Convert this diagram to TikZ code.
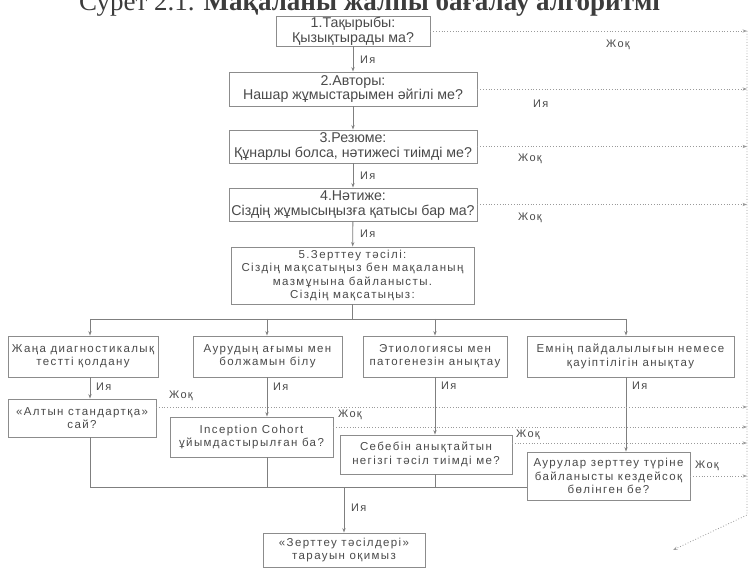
\documentclass[tikz,border=0pt]{standalone}
\usepackage{fontspec}
\setmainfont{Liberation Sans}
\newfontfamily\titlefont{Liberation Serif}
\newfontfamily\widesans[LetterSpace=12]{Liberation Sans}
\usetikzlibrary{arrows.meta}
\definecolor{boxc}{HTML}{8C8C8C}
\definecolor{txtc}{HTML}{4A4A4A}
\definecolor{linec}{HTML}{7F7F7F}
\definecolor{dotc}{HTML}{9A9A9A}
\definecolor{titc}{HTML}{3C3C3C}
\begin{document}
\begin{tikzpicture}[x=1pt,y=-1pt,
  topbox/.style={draw=boxc, line width=0.9pt, text=txtc, align=center, inner sep=0pt, font=\fontsize{14.2}{14.6}\selectfont},
  lowbox/.style={draw=boxc, line width=0.9pt, text=txtc, align=center, inner sep=0pt, font=\widesans\fontsize{11.5}{13.3}\selectfont},
  conn/.style={draw=linec, line width=0.8pt},
  arr/.style={conn, -{Stealth[length=4.5pt,width=3.2pt]}},
  noline/.style={draw=dotc, line width=0.8pt, dotted, -{Stealth[length=4.5pt,width=3.2pt]}},
  lab/.style={text=txtc, font=\widesans\fontsize{11}{13}\selectfont, inner sep=0pt, anchor=west},
]
\useasboundingbox (0,0) rectangle (750,569);
\fill[white] (0,0) rectangle (750,569);

% title (top part cut by the page edge, as in the reference)
\node[anchor=base west, inner sep=0pt, text=titc, font=\titlefont\fontsize{27}{30}\selectfont] (title) at (79,11) {Сурет 2.1. \textbf{Мақаланы жалпы бағалау алгоритмі}};

% main column
\node[topbox, minimum width=154pt, minimum height=30pt] (b1) at (353,31) {1.Тақырыбы:\\Қызықтырады ма?};
\node[topbox, minimum width=248pt, minimum height=34pt] (b2) at (353,89) {2.Авторы:\\Нашар жұмыстарымен әйгілі ме?};
\node[topbox, minimum width=248pt, minimum height=33pt] (b3) at (353,146.5) {3.Резюме:\\Құнарлы болса, нәтижесі тиімді ме?};
\node[topbox, minimum width=248pt, minimum height=33pt] (b4) at (353,204.5) {4.Нәтиже:\\Сіздің жұмысыңызға қатысы бар ма?};
\node[lowbox, minimum width=243pt, minimum height=57pt] (b5) at (352.5,275.5) {5.Зерттеу тәсілі:\\Сіздің мақсатыңыз бен мақаланың\\мазмұнына байланысты.\\Сіздің мақсатыңыз:};

% row 2
\node[lowbox, minimum width=150pt, minimum height=41pt] (r2a) at (83,356.5) {Жаңа диагностикалық\\тестті қолдану};
\node[lowbox, minimum width=149pt, minimum height=41pt] (r2b) at (267.5,356.5) {Аурудың ағымы мен\\болжамын білу};
\node[lowbox, minimum width=144pt, minimum height=41pt] (r2c) at (435,356.5) {Этиологиясы мен\\патогенезін анықтау};
\node[lowbox, minimum width=207pt, minimum height=41pt] (r2d) at (630.5,356.5) {Емнің пайдалылығын немесе\\қауіптілігін анықтау};

% row 3
\node[lowbox, minimum width=148pt, minimum height=38pt] (r3a) at (82,418) {«Алтын стандартқа»\\сай?};
\node[lowbox, minimum width=163pt, minimum height=40pt] (r3b) at (251.5,437) {Inception Cohort\\ұйымдастырылған ба?};
\node[lowbox, minimum width=172pt, minimum height=39pt] (r3c) at (426,454.5) {Себебін анықтайтын\\негізгі тәсіл тиімді ме?};
\node[lowbox, minimum width=163pt, minimum height=48pt] (r3d) at (608.5,476) {Аурулар зерттеу түріне\\байланысты кездейсоқ\\бөлінген бе?};

% final
\node[lowbox, minimum width=162pt, minimum height=34pt] (fin) at (344,550) {«Зерттеу тәсілдері»\\тарауын оқимыз};

% column coordinates
\coordinate (cA) at (90,0);
\coordinate (cB) at (267,0);
\coordinate (cC) at (435,0);
\coordinate (cD) at (626,0);
\coordinate (re) at (747,0);
\coordinate (jn) at (352.5,319);
\coordinate (mb) at (344,487);
\coordinate (dg) at (747,515);
\coordinate (out) at (673,550);

% main column arrows
\draw[arr] (b1) -- (b2);
\draw[arr] (b2) -- (b3);
\draw[arr] (b3) -- (b4);
\draw[arr] (b4) -- (b5);
\node[lab] (y1) at (360,60) {Ия};
\node[lab] (y3) at (360,176) {Ия};
\node[lab] (y4) at (360,234) {Ия};

% fork to row 2
\draw[conn] (b5.south) -- (jn);
\draw[conn] (jn -| cA) -- (jn -| cD);
\draw[arr] (jn -| cA) -- (r2a.north -| cA);
\draw[arr] (jn -| cB) -- (r2b.north -| cB);
\draw[arr] (jn -| cC) -- (r2c.north -| cC);
\draw[arr] (jn -| cD) -- (r2d.north -| cD);

% row 2 to row 3
\draw[arr] (r2a.south -| cA) -- (r3a.north -| cA);
\draw[arr] (r2b.south -| cB) -- (r3b.north -| cB);
\draw[arr] (r2c.south -| cC) -- (r3c.north -| cC);
\draw[arr] (r2d.south -| cD) -- (r3d.north -| cD);
\node[lab] (y5) at (96,387) {Ия};
\node[lab] (y6) at (273,387) {Ия};
\node[lab] (y7) at (441,386) {Ия};
\node[lab] (y8) at (632,386) {Ия};

% yes lines to the final box
\draw[conn] (r3a.south -| cA) -- (mb -| cA) -- (mb -| r3d.west);
\draw[conn] (r3b.south -| cB) -- (mb -| cB);
\draw[conn] (r3c.south -| cC) -- (mb -| cC);
\draw[arr] (mb) -- (fin.north);
\node[lab] (y9) at (351,508) {Ия};

% "no" lines
\draw[noline] (b1.east) -- (b1.east -| re);
\draw[noline] (b2.east) -- (b2.east -| re);
\draw[noline] (b3.east) -- (b3.east -| re);
\draw[noline] (b4.east) -- (b4.east -| re);
\node[lab] (n1) at (606,45) {Жоқ};
\node[lab] (n2) at (533,104) {Ия};
\node[lab] (n3) at (518,159) {Жоқ};
\node[lab] (n4) at (518,218) {Жоқ};

\coordinate (la) at (156,407);
\coordinate (lb) at (333,427);
\coordinate (lc) at (512,443);
\draw[noline] (la) -- (la -| re);
\draw[noline] (lb) -- (lb -| re);
\draw[noline] (lc) -- (lc -| re);
\draw[noline] (r3d.east) -- (r3d.east -| re);
\node[lab] (n5) at (169,396) {Жоқ};
\node[lab] (n6) at (338,415) {Жоқ};
\node[lab] (n7) at (516,435) {Жоқ};
\node[lab, fill=white, inner sep=1pt] (n8) at (694,466) {Жоқ};

% right-hand collector
\draw[noline] (b1.east -| re) -- (dg) -- (out);
\end{tikzpicture}
\end{document}
